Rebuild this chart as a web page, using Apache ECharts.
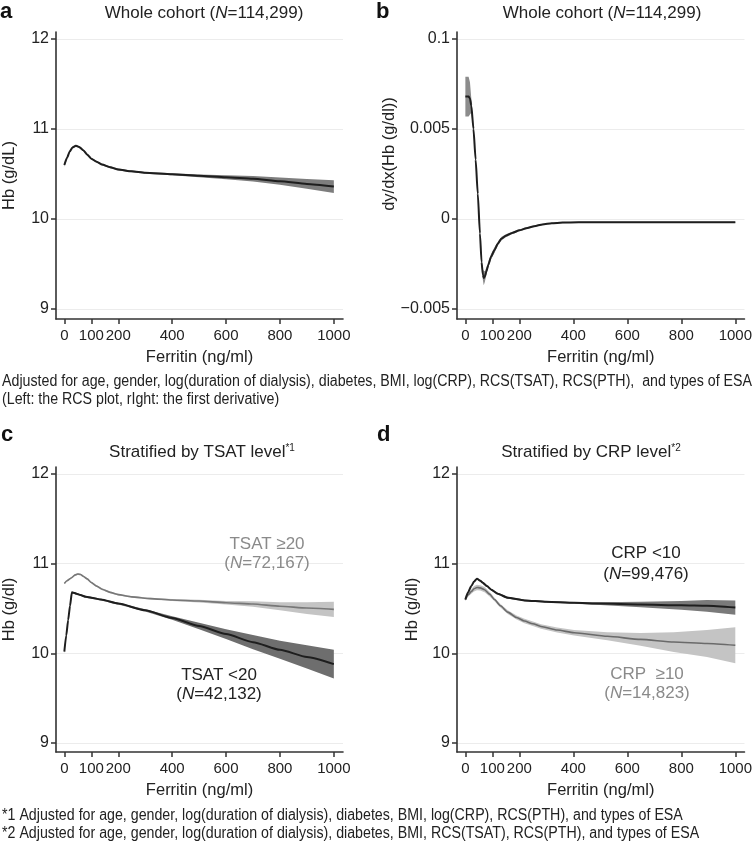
<!DOCTYPE html>
<html><head><meta charset="utf-8">
<script src="https://cdn.jsdelivr.net/npm/echarts@6/dist/echarts.min.js"></script>
<style>html,body{margin:0;padding:0;background:#fff}#c{width:755px;height:845px}</style>
</head><body><div id="c"></div><script>
// ---- tick labels ----
const xTicks = [0, 100, 200, 400, 600, 800, 1000];
const hbTicks = [9, 10, 11, 12];
const derivTicks = [-0.005, 0, 0.005, 0.01];
const derivTickLabels = ['\u22120.005', '0', '0.005', '0.1'];

// ---- panel a: whole cohort RCS ----
const aX = [0,10,20,30,43,55,70,85,100,120,140,170,200,250,300,400,500,600,700,800,900,1000];
const aY = [10.60,10.68,10.75,10.795,10.815,10.80,10.765,10.715,10.67,10.635,10.605,10.575,10.55,10.53,10.513,10.497,10.48,10.465,10.447,10.42,10.39,10.36];
const aHalf = [0.02,0.015,0.012,0.01,0.01,0.01,0.01,0.01,0.01,0.01,0.01,0.01,0.01,0.01,0.01,0.012,0.016,0.022,0.03,0.04,0.055,0.07];

// ---- panel b: first derivative ----
const bX = [0,6,12,17,22,30,38,46,54,60,65,68,72,78,85,95,108,120,133,150,176,200,225,255,286,320,360,420,500,600,700,800,900,1000];
const bY = [0.0068,0.0068,0.0068,0.0067,0.0063,0.0050,0.0033,0.0014,-0.0008,-0.0024,-0.0031,-0.00328,-0.0032,-0.0029,-0.00255,-0.0021,-0.00172,-0.00138,-0.0011,-0.00093,-0.00076,-0.00063,-0.00052,-0.0004,-0.0003,-0.00024,-0.0002,-0.00018,-0.00018,-0.00018,-0.00018,-0.00018,-0.00018,-0.00018];
const bHalf = [0.0011,0.0011,0.0011,0.0009,0.0004,0.0002,0.0001,0.0001,0.0001,0.0002,0.0003,0.0004,0.0003,0.0002,0.00015,0.00015,0.00015,0.0001,0.0001,0.00008,0.00006,0.00005,0.00005,0.00004,0.00003,0.00003,0.00003,0.00003,0.00003,0.00003,0.00003,0.00003,0.00003,0.00003];

// ---- panel c: TSAT strata ----
const tsatHighX = [0,10,25,40,50,60,70,85,100,120,140,170,200,250,320,400,500,600,700,800,900,1000];
const tsatHighY = [10.78,10.81,10.84,10.875,10.885,10.88,10.86,10.83,10.79,10.75,10.715,10.68,10.655,10.63,10.61,10.595,10.583,10.565,10.55,10.525,10.505,10.49];
const tsatHighHalf = [0.01,0.01,0.01,0.01,0.01,0.01,0.01,0.01,0.01,0.01,0.01,0.01,0.01,0.01,0.01,0.012,0.015,0.02,0.03,0.045,0.065,0.085];
const tsatLowX = [0,7,14,21,28,35,45,60,80,100,136,200,300,400,500,600,700,800,900,1000];
const tsatLowY = [10.02,10.20,10.37,10.53,10.68,10.675,10.665,10.65,10.63,10.62,10.60,10.555,10.48,10.395,10.305,10.215,10.125,10.04,9.96,9.88];
const tsatLowHalf = [0.02,0.015,0.012,0.01,0.01,0.01,0.01,0.01,0.01,0.01,0.01,0.01,0.012,0.02,0.035,0.055,0.08,0.1,0.13,0.16];

// ---- panel d: CRP strata ----
const crpLowX = [0,10,22,32,43,55,65,80,96,120,157,219,300,403,500,649,800,895,1000];
const crpLowY = [10.60,10.68,10.75,10.80,10.833,10.81,10.786,10.75,10.71,10.665,10.62,10.59,10.575,10.563,10.555,10.545,10.535,10.53,10.51];
const crpLowHalf = [0.01,0.01,0.01,0.01,0.01,0.01,0.01,0.01,0.01,0.01,0.01,0.01,0.01,0.01,0.015,0.03,0.05,0.065,0.08];
const crpHighX = [0,10,22,32,43,55,71,90,108,130,157,190,219,250,280,340,403,526,649,772,895,1000];
const crpHighY = [10.60,10.65,10.69,10.72,10.735,10.73,10.71,10.66,10.60,10.53,10.46,10.40,10.36,10.33,10.30,10.26,10.23,10.19,10.156,10.126,10.11,10.09];
const crpHighHalf = [0.015,0.02,0.025,0.03,0.03,0.03,0.03,0.025,0.02,0.02,0.02,0.022,0.025,0.025,0.025,0.028,0.03,0.045,0.07,0.11,0.15,0.2];

// ---- texts ----
const footA1 = 'Adjusted for age, gender, log(duration of dialysis), diabetes, BMI, log(CRP), RCS(TSAT), RCS(PTH),  and types of ESA';
const footA2 = '(Left: the RCS plot, rIght: the first derivative)';
const footB1 = '*1 Adjusted for age, gender, log(duration of dialysis), diabetes, BMI, log(CRP), RCS(PTH), and types of ESA';
const footB2 = '*2 Adjusted for age, gender, log(duration of dialysis), diabetes, BMI, RCS(TSAT), RCS(PTH), and types of ESA';

const FONT = 'Liberation Sans, Arial, Helvetica, sans-serif';
const AX = '#333';

function measure(text, size) {
  const ctx = document.createElement('canvas').getContext('2d');
  ctx.font = size + 'px "Liberation Sans", Arial, sans-serif';
  return ctx.measureText(text).width;
}
const footScale = 750 / measure(footA1, 16);

function line(idx, xs, ys, color, width, z) {
  return { type: 'line', xAxisIndex: idx, yAxisIndex: idx, data: xs.map((v, i) => [v, ys[i]]),
    showSymbol: false, symbol: 'none', smooth: 0.2, smoothMonotone: 'x', silent: true, z: z || 5,
    lineStyle: { color: color, width: width } };
}
function band(idx, xs, ys, half, color) {
  const lo = ys.map((v, i) => v - half[i]);
  const hi = ys.map((v, i) => v + half[i]);
  return { type: 'custom', xAxisIndex: idx, yAxisIndex: idx, silent: true, clip: true, z: 2,
    data: xs.map((v, i) => [v, lo[i], hi[i]]),
    encode: { x: 0, y: [1, 2] },
    renderItem: function (params, api) {
      if (params.dataIndex !== 0) return null;
      const pts = [];
      for (let i = 0; i < xs.length; i++) pts.push(api.coord([xs[i], hi[i]]));
      for (let i = xs.length - 1; i >= 0; i--) pts.push(api.coord([xs[i], lo[i]]));
      return { type: 'polygon', shape: { points: pts }, style: { fill: color } };
    } };
}

const grids = [
  { left: 55, top: 32, width: 288, height: 287 },
  { left: 457, top: 32, width: 288, height: 287 },
  { left: 55, top: 467, width: 288, height: 285 },
  { left: 457, top: 467, width: 288, height: 285 }
];
const xAxes = grids.map((g, i) => ({
  gridIndex: i, type: 'value', min: -31, max: 1034,
  axisLine: { show: true, onZero: false, lineStyle: { color: AX, width: 1.6 } },
  axisTick: { show: true, length: 5, customValues: xTicks, lineStyle: { color: AX, width: 1.5 } },
  axisLabel: { customValues: xTicks, fontSize: 15, color: '#222', margin: 9, fontFamily: FONT, hideOverlap: false,
    formatter: function (v) { return String(Math.round(v)); } },
  splitLine: { show: false },
  name: 'Ferritin (ng/ml)', nameLocation: 'middle', nameGap: 30,
  nameTextStyle: { fontSize: 16.5, color: '#222', fontFamily: FONT }
}));
function hbAxis(i, min, name, gap) {
  return { gridIndex: i, type: 'value', min: min, max: 12.078,
    axisLine: { show: true, onZero: false, lineStyle: { color: AX, width: 1.6 } },
    axisTick: { show: true, length: 5, customValues: hbTicks, lineStyle: { color: AX, width: 1.5 } },
    axisLabel: { customValues: hbTicks, fontSize: 16, color: '#222', margin: 7, fontFamily: FONT,
      formatter: function (v) { return String(Math.round(v)); } },
    splitLine: { show: true, lineStyle: { color: '#ececec', width: 1 } },
    name: name, nameLocation: 'middle', nameGap: gap,
    nameTextStyle: { fontSize: 16.5, color: '#222', fontFamily: FONT } };
}
const yAxes = [
  hbAxis(0, 8.889, 'Hb (g/dL)', 38),
  { gridIndex: 1, type: 'value', min: -0.005556, max: 0.010389,
    axisLine: { show: true, onZero: false, lineStyle: { color: AX, width: 1.6 } },
    axisTick: { show: true, length: 5, customValues: derivTicks, lineStyle: { color: AX, width: 1.5 } },
    axisLabel: { customValues: derivTicks, fontSize: 16, color: '#222', margin: 7, fontFamily: FONT,
      formatter: function (v) {
        let best = 0;
        for (let k = 1; k < derivTicks.length; k++) if (Math.abs(derivTicks[k] - v) < Math.abs(derivTicks[best] - v)) best = k;
        return derivTickLabels[best];
      } },
    splitLine: { show: true, lineStyle: { color: '#ececec', width: 1 } } },
  hbAxis(2, 8.9, 'Hb (g/dl)', 38),
  hbAxis(3, 8.9, 'Hb (g/dl)', 36)
];

function txt(x, y, text, opts) {
  opts = opts || {};
  const size = opts.size || 17;
  const fill = opts.fill || '#222';
  const r = {
    i: { fontStyle: 'italic', fontSize: size, fontFamily: FONT, fill: fill },
    sup: { fontSize: 10, fontFamily: FONT, verticalAlign: 'top', lineHeight: 16, fill: fill }
  };
  return { type: 'text', x: x, y: y, rotation: opts.rotation || 0, scaleX: opts.scaleX || 1,
    silent: true, z: 100,
    style: { text: text, fontSize: size, fontFamily: FONT,
      fontWeight: opts.weight || 'normal', fill: fill,
      align: opts.align || 'center', textAlign: opts.align || 'center',
      verticalAlign: 'middle', textVerticalAlign: 'middle', rich: r } };
}
const GREY_TXT = '#8a8a8a';
const graphics = [
  txt(0, 12, 'a', { align: 'left', size: 22, weight: 'bold', fill: '#111' }),
  txt(376, 12, 'b', { align: 'left', size: 22, weight: 'bold', fill: '#111' }),
  txt(1, 435, 'c', { align: 'left', size: 22, weight: 'bold', fill: '#111' }),
  txt(377, 435, 'd', { align: 'left', size: 22, weight: 'bold', fill: '#111' }),
  txt(204, 13, 'Whole cohort ({i|N}=114,299)'),
  txt(602, 13, 'Whole cohort ({i|N}=114,299)'),
  txt(202, 452, 'Stratified by TSAT level{sup|*1}'),
  txt(591, 452, 'Stratified by CRP level{sup|*2}'),
  txt(389, 154, 'dy/dx(Hb (g/dl))', { rotation: Math.PI / 2, size: 16.5 }),
  txt(267, 544, 'TSAT \u226520', { fill: GREY_TXT }),
  txt(267, 563, '({i|N}=72,167)', { fill: GREY_TXT }),
  txt(219, 675, 'TSAT <20'),
  txt(219, 694, '({i|N}=42,132)'),
  txt(646, 553, 'CRP <10'),
  txt(646, 574, '({i|N}=99,476)'),
  txt(647, 674, 'CRP  \u226510', { fill: GREY_TXT }),
  txt(647, 693, '({i|N}=14,823)', { fill: GREY_TXT }),
  txt(2, 382, footA1, { align: 'left', size: 16, scaleX: footScale }),
  txt(2, 400, footA2, { align: 'left', size: 16, scaleX: footScale }),
  txt(2, 816, footB1, { align: 'left', size: 16, scaleX: footScale }),
  txt(2, 834, footB2, { align: 'left', size: 16, scaleX: footScale })
];

const series = [
  band(0, aX, aY, aHalf, '#7d7d7d'),
  line(0, aX, aY, '#1e1e1e', 2),
  band(1, bX, bY, bHalf, '#8c8c8c'),
  line(1, bX, bY, '#1e1e1e', 2),
  band(2, tsatHighX, tsatHighY, tsatHighHalf, '#c4c4c4'),
  band(2, tsatLowX, tsatLowY, tsatLowHalf, '#6e6e6e'),
  line(2, tsatHighX, tsatHighY, '#777777', 1.6),
  line(2, tsatLowX, tsatLowY, '#1e1e1e', 2),
  band(3, crpHighX, crpHighY, crpHighHalf, '#c4c4c4'),
  band(3, crpLowX, crpLowY, crpLowHalf, '#7a7a7a'),
  line(3, crpHighX, crpHighY, '#6a6a6a', 1.6),
  line(3, crpLowX, crpLowY, '#1e1e1e', 2)
];

const chart = echarts.init(document.getElementById('c'), null, { renderer: 'canvas' });
chart.setOption({
  animation: false,
  backgroundColor: '#fff',
  textStyle: { fontFamily: FONT },
  grid: grids, xAxis: xAxes, yAxis: yAxes, series: series, graphic: graphics
});
</script></body></html>
